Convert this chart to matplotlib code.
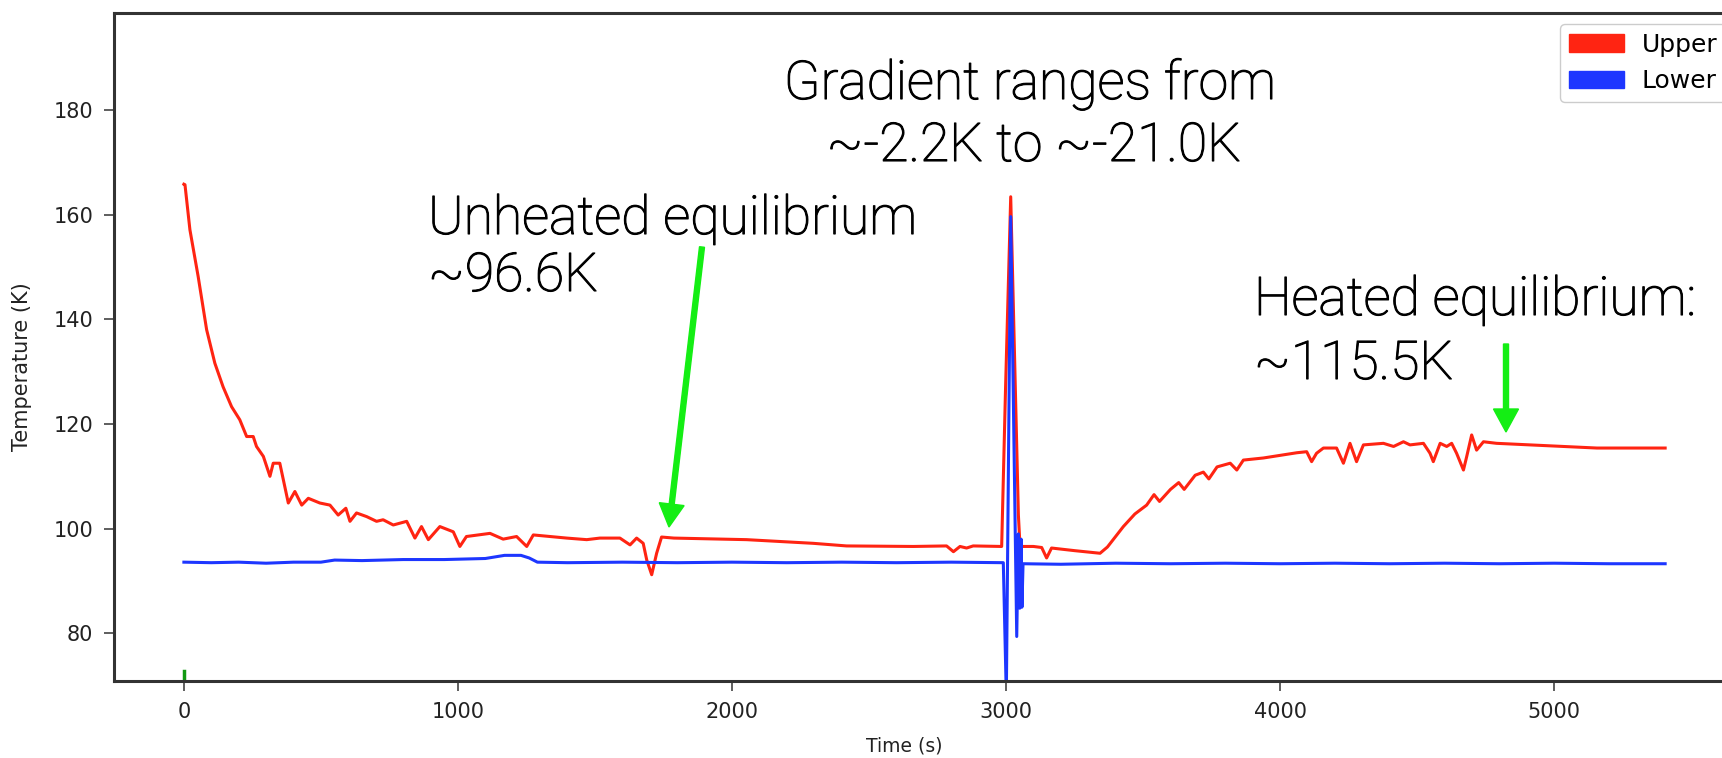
import numpy as np
import matplotlib.pyplot as plt
import matplotlib.patheffects as pe
from matplotlib.patches import Patch, FancyArrow
from matplotlib.transforms import IdentityTransform

W, H = 1722, 758

# upper sensor temperature (K) vs time (s)
upper_t = [0, 4, 22, 52, 83, 113, 143, 174, 204, 229, 253, 265, 290, 314, 326,
           350, 381, 405, 430, 454, 496, 533, 563, 591, 606, 630, 667, 703, 727,
           764, 813, 843, 867, 892, 934, 983, 1007, 1031, 1117, 1165, 1214, 1251,
           1275, 1397, 1470, 1518, 1591, 1628, 1652, 1676, 1689, 1707, 1725, 1743,
           1788, 2053, 2296, 2418, 2662, 2783, 2808, 2832, 2856, 2880, 2984, 2998,
           3017, 3045, 3051, 3100, 3130, 3148, 3166, 3250, 3343, 3370, 3428, 3470,
           3513, 3540, 3560, 3600, 3630, 3650, 3690, 3720, 3740, 3770, 3818, 3842,
           3866, 3939, 4061, 4097, 4115, 4133, 4158, 4206, 4231, 4255, 4279, 4304,
           4377, 4414, 4450, 4474, 4523, 4547, 4559, 4584, 4608, 4626, 4644, 4669,
           4681, 4699, 4717, 4742, 4790, 4912, 5034, 5156, 5277, 5405]
upper_v = [165.8, 165.7, 157.1, 148.2, 138.0, 131.6, 127.1, 123.3, 120.8, 117.6,
           117.6, 115.7, 113.8, 110.0, 112.5, 112.5, 104.9, 107.1, 104.5, 105.8,
           104.9, 104.5, 102.6, 103.9, 101.4, 103.0, 102.3, 101.4, 101.7, 100.7,
           101.4, 98.2, 100.4, 97.9, 100.4, 99.4, 96.6, 98.5, 99.1, 98.0, 98.5,
           96.6, 98.8, 98.2, 97.9, 98.2, 98.2, 96.9, 98.2, 97.2, 94.0, 91.2, 95.3,
           98.4, 98.2, 97.9, 97.2, 96.7, 96.6, 96.7, 95.6, 96.6, 96.3, 96.7, 96.6,
           126.5, 163.4, 102.6, 96.6, 96.6, 96.4, 94.4, 96.3, 95.8, 95.3, 96.5,
           100.4, 102.8, 104.5, 106.5, 105.2, 107.5, 108.8, 107.5, 110.2, 110.8,
           109.5, 111.8, 112.5, 111.2, 113.1, 113.5, 114.5, 114.7, 112.8, 114.4,
           115.4, 115.4, 112.5, 116.3, 112.8, 116.0, 116.3, 115.7, 116.6, 116.0,
           116.3, 114.4, 112.8, 116.3, 115.7, 116.3, 114.4, 111.2, 113.8, 117.9,
           115.0, 116.6, 116.3, 116.0, 115.7, 115.4, 115.4, 115.4]

# lower sensor temperature (K) vs time (s)
lower_t = [0, 100, 200, 300, 400, 500, 550, 650, 800, 950, 1100, 1170, 1230, 1260,
           1290, 1400, 1600, 1800, 2000, 2200, 2400, 2600, 2800, 2990, 3001, 3017,
           3039, 3045, 3050, 3055, 3058, 3062, 3200, 3400, 3600, 3800, 4000, 4200,
           4400, 4600, 4800, 5000, 5200, 5405]
lower_v = [93.6, 93.5, 93.6, 93.4, 93.6, 93.6, 94.0, 93.9, 94.1, 94.1, 94.3, 94.9,
           94.9, 94.4, 93.6, 93.5, 93.6, 93.5, 93.6, 93.5, 93.6, 93.5, 93.6, 93.5,
           68.0, 159.6, 79.4, 99.0, 84.8, 98.0, 85.0, 93.3, 93.2, 93.4, 93.3, 93.4,
           93.3, 93.4, 93.3, 93.4, 93.3, 93.4, 93.3, 93.3]

# gradient trace, only its first sample lands inside the window
grad_t = [0, 0]
grad_v = [70.0, 72.8]

xticks = [0, 1000, 2000, 3000, 4000, 5000]
yticks = [80, 100, 120, 140, 160, 180]

red = '#ff2412'
blue = '#1d36ff'
green = '#14ee14'
axis_col = '#333333'

fig = plt.figure(figsize=(W / 100, H / 100), dpi=100)
ax = fig.add_axes([114 / W, (H - 681) / H, (1746 - 114) / W, (681 - 13) / H])

ax.plot(grad_t, grad_v, color='#119911', lw=2.5)
ax.plot(upper_t, upper_v, color=red, lw=2.2)
ax.plot(lower_t, lower_v, color=blue, lw=2.2)

ax.set_xlim(-255, 5700)
ax.set_ylim(70.9, 198.5)
ax.set_xticks(xticks)
ax.set_yticks(yticks)
ax.tick_params(labelsize=15, length=7, width=1.1, pad=8, color=axis_col,
               labelcolor='#222222')
for s in ax.spines.values():
    s.set_linewidth(2.2)
    s.set_color(axis_col)

ax.set_xlabel('Time (s)', fontsize=13.5, color='#222222')
ax.set_ylabel('Temperature (K)', fontsize=15, color='#222222')
ax.xaxis.set_label_coords((904 - 114) / 1632, -0.083)
ax.yaxis.set_label_coords(-0.05, 0.47)

handles = [Patch(color=red, label='Upper'), Patch(color=blue, label='Lower')]
ax.legend(handles=handles, loc='upper left', bbox_to_anchor=(1560 / W, 1 - 24 / H),
          bbox_transform=fig.transFigure, borderaxespad=0, fontsize=18,
          handlelength=2.2, handleheight=0.7, handletextpad=0.72,
          labelspacing=0.5, borderpad=0.35, fancybox=True,
          edgecolor='#cccccc', framealpha=1)

# slide callouts, positioned in pixels from the top-left corner
tkw = dict(fontsize=38.5, fontfamily='Roboto', fontweight='light', color='black',
           va='baseline',
           path_effects=[pe.withStroke(linewidth=0.8, foreground='black')])

def put(x, y, s, ha='left'):
    fig.text(x / W, 1 - y / H, s, ha=ha, **tkw)

put(428, 234, 'Unheated equilibrium')
put(428, 291, '~96.6K')
put(1030, 99, 'Gradient ranges from', ha='center')
put(1034, 161, '~-2.2K to ~-21.0K', ha='center')
put(1254, 315, 'Heated equilibrium:')
put(1254, 379, '~115.5K')

def arrow(x0, y0, x1, y1):
    a = FancyArrow(x0, H - y0, x1 - x0, -(y1 - y0), width=5, head_width=25,
                   head_length=23, length_includes_head=True, color=green,
                   transform=IdentityTransform())
    fig.add_artist(a)

arrow(702, 247, 669, 527)
arrow(1506, 344, 1506, 432)

fig.savefig('out.png', dpi=100)
